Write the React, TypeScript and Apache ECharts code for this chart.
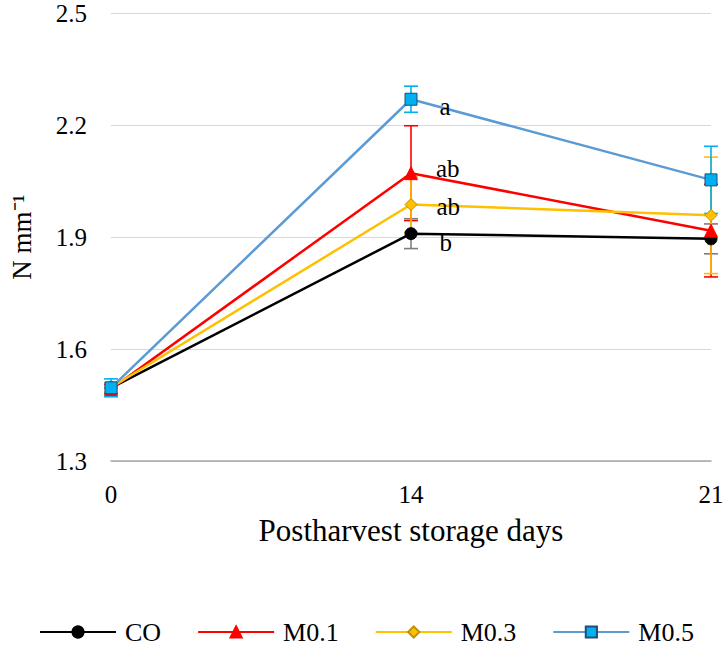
import React, { useEffect, useRef } from "react";
import * as echarts from "echarts";

const days = ["0", "14", "21"];
const seriesNames = ["CO", "M0.1", "M0.3", "M0.5"];
const coValues = [1.496, 1.909, 1.895];
const coErr = [0.012, 0.04, 0.04];
const m01Values = [1.493, 2.071, 1.917];
const m01Err = [0.012, 0.127, 0.124];
const m03Values = [1.497, 1.987, 1.958];
const m03Err = [0.012, 0.074, 0.156];
const m05Values = [1.496, 2.269, 2.053];
const m05Err = [0.024, 0.035, 0.09];
const day14Letters = ["b", "ab", "ab", "a"];
const yMin = 1.3;
const yMax = 2.5;
const yInterval = 0.3;

const FONT = "Liberation Serif";

const lineColors = ["#000000", "#FF0000", "#FFC000", "#5B9BD5"];
const markerFill = ["#000000", "#FF0000", "#FFC000", "#00B0F0"];
const markerBorder = ["#000000", "#FF0000", "#BF9000", "#1F4E79"];
const errColors = ["#7F7F7F", "#FF0000", "#FFC000", "#00B0F0"];
const symbols = ["circle", "triangle", "diamond", "rect"];
const labelOffsets = [
  [0, 9],
  [-4, -5],
  [-3, 2],
  [0, 7],
];

const allValues = [coValues, m01Values, m03Values, m05Values];
const allErr = [coErr, m01Err, m03Err, m05Err];

export default function App() {
  const ref = useRef<HTMLDivElement>(null);
  useEffect(() => {
    if (!ref.current) return;
    const chart = echarts.init(ref.current, null, { renderer: "svg" });

    const errSeries = seriesNames.map((name, s) => ({
      type: "custom",
      name: name + " error",
      z: 2,
      data: days.map((d, i) => [i, allValues[s][i] - allErr[s][i], allValues[s][i] + allErr[s][i]]),
      encode: { x: 0, y: [1, 2] },
      renderItem: (params: any, api: any) => {
        const x = api.value(0);
        const lo = api.coord([x, api.value(1)]);
        const hi = api.coord([x, api.value(2)]);
        const half = 7;
        const style = { stroke: errColors[s], lineWidth: 1.6 };
        return {
          type: "group",
          children: [
            { type: "line", shape: { x1: lo[0], y1: lo[1], x2: hi[0], y2: hi[1] }, style },
            { type: "line", shape: { x1: lo[0] - half, y1: lo[1], x2: lo[0] + half, y2: lo[1] }, style },
            { type: "line", shape: { x1: hi[0] - half, y1: hi[1], x2: hi[0] + half, y2: hi[1] }, style },
          ],
        };
      },
    }));

    const lineSeries = seriesNames.map((name, s) => ({
      type: "line",
      name,
      z: 3,
      symbol: symbols[s],
      symbolSize: s === 1 ? 13 : 12,
      showAllSymbol: true,
      lineStyle: { color: lineColors[s], width: 2.5 },
      itemStyle: { color: markerFill[s], borderColor: markerBorder[s], borderWidth: 1 },
      data: allValues[s].map((v, i) =>
        i === 1
          ? {
              value: v,
              label: {
                show: true,
                formatter: day14Letters[s],
                position: "right",
                distance: 22,
                offset: labelOffsets[s],
                color: "#000",
                fontFamily: FONT,
                fontSize: 25,
              },
            }
          : v
      ),
    }));

    chart.setOption({
      animation: false,
      backgroundColor: "#ffffff",
      textStyle: { fontFamily: FONT },
      grid: { left: 101, right: 16, top: 13, bottom: 186, containLabel: false },
      legend: {
        data: seriesNames,
        left: 34,
        top: 614,
        itemWidth: 76,
        itemHeight: 14,
        itemGap: 36,
        textStyle: { fontFamily: FONT, fontSize: 26, color: "#000", padding: [0, 0, 0, 4] },
      },
      xAxis: {
        type: "category",
        data: days,
        boundaryGap: false,
        axisLine: { show: true, lineStyle: { color: "#A6A6A6", width: 1.5 } },
        axisTick: { show: false },
        axisLabel: { color: "#000", fontFamily: FONT, fontSize: 25, margin: 21 },
        name: "Postharvest storage days",
        nameLocation: "middle",
        nameGap: 54,
        nameTextStyle: { color: "#000", fontFamily: FONT, fontSize: 31 },
        splitLine: { show: false },
      },
      yAxis: {
        type: "value",
        min: yMin,
        max: yMax,
        interval: yInterval,
        axisLine: { show: false },
        axisTick: { show: false },
        axisLabel: {
          color: "#000",
          fontFamily: FONT,
          fontSize: 25,
          margin: 24,
          formatter: (v: number) => v.toFixed(1),
        },
        splitLine: { show: true, lineStyle: { color: "#D9D9D9", width: 1 } },
        name: "N mm⁻¹",
        nameLocation: "middle",
        nameGap: 76,
        nameRotate: 90,
        nameTextStyle: { color: "#000", fontFamily: FONT, fontSize: 27 },
      },
      series: [...errSeries, ...lineSeries],
    });

    return () => chart.dispose();
  }, []);

  return <div ref={ref} style={{ width: 727, height: 647, position: "absolute", left: 0, top: 0 }} />;
}
